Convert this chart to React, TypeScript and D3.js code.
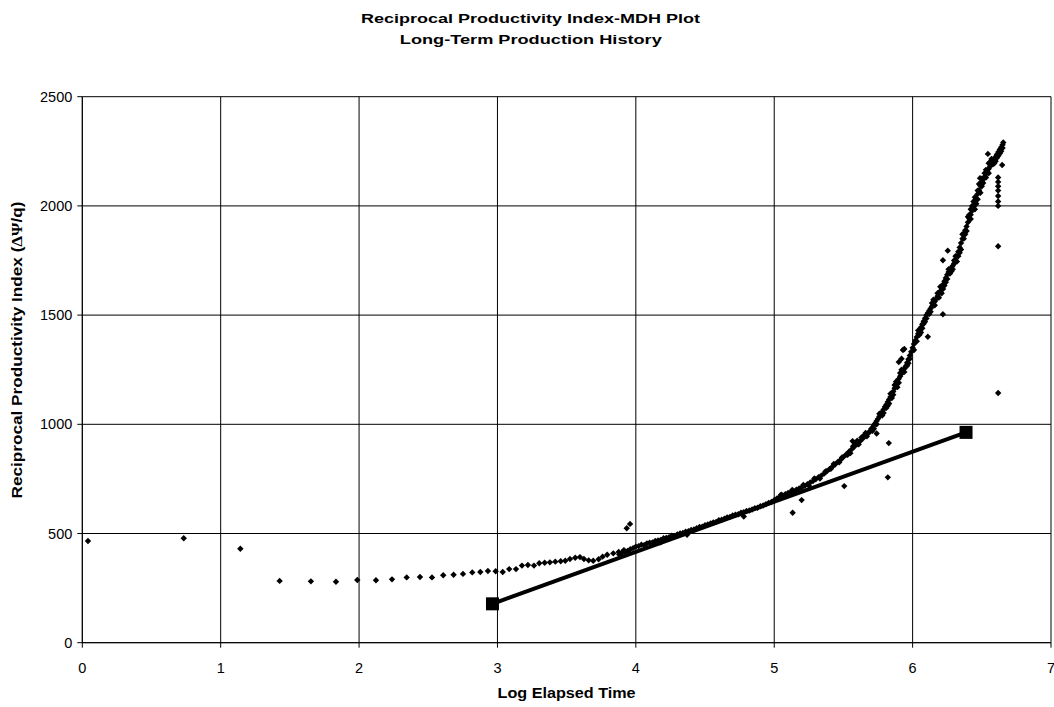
import React from "react";
import * as d3 from "d3";

const xTicks = [0, 1, 2, 3, 4, 5, 6, 7];
const yTicks = [0, 500, 1000, 1500, 2000, 2500];

// early-time points and the upper "knee" row
const earlyPoints: [number, number][] = [
  [0.041, 466], [0.733, 478], [1.142, 430], [1.426, 283], [1.652, 281], [1.833, 279],
  [1.987, 287], [2.122, 286], [2.238, 290], [2.344, 299], [2.44, 301], [2.527, 299],
  [2.608, 309], [2.683, 311], [2.751, 315], [2.818, 322], [2.876, 324], [2.931, 328],
  [2.987, 327], [3.038, 324], [3.085, 337], [3.134, 337], [3.177, 353], [3.22, 356],
  [3.264, 353], [3.302, 364], [3.341, 366], [3.379, 368], [3.418, 371], [3.457, 373],
  [3.49, 375], [3.524, 383], [3.562, 389], [3.596, 392], [3.625, 383], [3.659, 377],
  [3.692, 375], [3.731, 382], [3.76, 394], [3.793, 403], [3.837, 409], [3.876, 415],
  [3.914, 424],
];

// dense band of late-time points
const bandPoints: [number, number][] = [
  [3.88, 404], [3.9, 412], [3.92, 416], [3.94, 420], [3.96, 428], [3.98, 433], [4.0, 440],
  [4.02, 442], [4.04, 449], [4.06, 447], [4.08, 455], [4.1, 458], [4.12, 459], [4.14, 466],
  [4.16, 468], [4.18, 470], [4.18, 460], [4.2, 478], [4.22, 480], [4.24, 483], [4.26, 490],
  [4.28, 489], [4.3, 496], [4.32, 500], [4.34, 502], [4.36, 508], [4.37, 494], [4.38, 510],
  [4.4, 516], [4.42, 518], [4.44, 524], [4.46, 530], [4.48, 531], [4.5, 538], [4.52, 541],
  [4.54, 546], [4.56, 551], [4.58, 553], [4.6, 561], [4.62, 563], [4.64, 568], [4.66, 574],
  [4.68, 576], [4.7, 583], [4.72, 586], [4.74, 588], [4.76, 595], [4.78, 598], [4.78, 578],
  [4.8, 603], [4.82, 605], [4.84, 610], [4.86, 616], [4.88, 618], [4.9, 625], [4.92, 628],
  [4.94, 634], [4.96, 640], [4.98, 644], [5.0, 652],
  [5.02, 660], [5.04, 668], [5.05, 678], [5.06, 674], [5.08, 680], [5.09, 676], [5.1, 686],
  [5.12, 690], [5.13, 699], [5.14, 695], [5.16, 700], [5.17, 694], [5.18, 706], [5.2, 712],
  [5.21, 722], [5.22, 718], [5.24, 726], [5.25, 720], [5.26, 734], [5.28, 740], [5.29, 752],
  [5.3, 748], [5.32, 758], [5.33, 752], [5.34, 765], [5.36, 774], [5.37, 784], [5.38, 785],
  [5.4, 795], [5.41, 796], [5.42, 806], [5.43, 818], [5.44, 816], [5.46, 828], [5.47, 826],
  [5.48, 838], [5.49, 848], [5.5, 850],
  [5.52, 862], [5.53, 860], [5.54, 874], [5.56, 886], [5.57, 900], [5.58, 898], [5.6, 910],
  [5.61, 908], [5.62, 922], [5.64, 935], [5.65, 950], [5.66, 948], [5.68, 962], [5.69, 965],
  [5.7, 978], [5.71, 985], [5.72, 996], [5.72, 980], [5.73, 1005], [5.74, 1015], [5.75, 1025],
  [5.76, 1036], [5.76, 1048], [5.77, 1046], [5.78, 1057], [5.79, 1068], [5.79, 1052],
  [5.8, 1080], [5.81, 1090], [5.82, 1102], [5.82, 1085], [5.83, 1114], [5.84, 1125],
  [5.84, 1140], [5.85, 1138], [5.86, 1150], [5.86, 1135], [5.87, 1165], [5.88, 1178],
  [5.88, 1195], [5.89, 1192], [5.9, 1208], [5.9, 1190], [5.9, 1285], [5.91, 1220],
  [5.92, 1232], [5.92, 1250], [5.92, 1300], [5.93, 1243], [5.93, 1340], [5.94, 1254],
  [5.94, 1240], [5.94, 1345], [5.95, 1266], [5.96, 1282], [5.96, 1268], [5.97, 1298],
  [5.98, 1315], [5.98, 1300], [5.99, 1332], [6.0, 1350],
  [6.01, 1368], [6.02, 1384], [6.03, 1400], [6.04, 1415], [6.04, 1430], [6.05, 1430],
  [6.06, 1444], [6.06, 1420], [6.07, 1458], [6.08, 1472], [6.08, 1460], [6.09, 1486],
  [6.1, 1500], [6.11, 1510], [6.12, 1520], [6.12, 1505], [6.13, 1530], [6.14, 1540],
  [6.14, 1555], [6.15, 1550], [6.16, 1562], [6.17, 1574], [6.18, 1586], [6.18, 1600],
  [6.19, 1598], [6.2, 1610], [6.2, 1630], [6.21, 1625], [6.22, 1640], [6.22, 1620],
  [6.23, 1655], [6.24, 1670], [6.24, 1650], [6.25, 1685], [6.26, 1697], [6.26, 1710],
  [6.27, 1708], [6.28, 1717], [6.28, 1700], [6.29, 1726], [6.3, 1736], [6.3, 1750],
  [6.31, 1752], [6.32, 1770], [6.33, 1790], [6.33, 1770], [6.34, 1810], [6.35, 1830],
  [6.36, 1850], [6.36, 1870], [6.37, 1870], [6.38, 1888], [6.38, 1870], [6.39, 1906],
  [6.4, 1925], [6.4, 1950], [6.41, 1942], [6.42, 1960], [6.42, 1940], [6.43, 1978],
  [6.44, 1996], [6.44, 2020], [6.45, 2015], [6.46, 2034], [6.46, 2010], [6.47, 2054],
  [6.48, 2072], [6.48, 2100], [6.49, 2092], [6.5, 2110], [6.5, 2090], [6.51, 2122],
  [6.52, 2134], [6.52, 2150], [6.53, 2146], [6.54, 2158], [6.55, 2170], [6.56, 2181],
  [6.56, 2200], [6.57, 2192], [6.58, 2203], [6.58, 2190], [6.59, 2214], [6.6, 2225],
  [6.61, 2236], [6.62, 2247], [6.62, 2230], [6.63, 2258], [6.64, 2269], [6.64, 2250],
  [6.65, 2280], [6.655, 2290],
  [5.58, 915], [5.63, 940], [5.67, 945], [5.74, 1000], [5.83, 1095], [5.87, 1180],
  [6.03, 1380], [6.09, 1470], [6.16, 1545], [6.21, 1600], [6.27, 1690], [6.32, 1745],
  [6.35, 1800], [6.43, 2000], [6.45, 1985], [6.47, 2070], [6.49, 2060], [6.51, 2105],
  [6.53, 2130], [6.57, 2215], [6.6, 2205], [6.63, 2240],
  [5.55, 868], [5.6, 925], [5.66, 960], [5.71, 970], [5.78, 1040], [5.81, 1075],
  [5.85, 1120], [5.89, 1170], [5.91, 1235], [5.97, 1280], [6.01, 1340], [6.05, 1410],
  [6.07, 1440], [6.1, 1485], [6.13, 1515], [6.15, 1570], [6.19, 1580], [6.23, 1635],
  [6.25, 1665], [6.29, 1710], [6.31, 1770], [6.34, 1785], [6.37, 1850], [6.39, 1885],
  [6.41, 1960], [6.42, 1985], [6.45, 2040], [6.47, 2030], [6.5, 2125], [6.53, 2165],
  [6.55, 2150], [6.59, 2195], [6.61, 2220], [6.65, 2265],
];

// scattered outliers
const outlierPoints: [number, number][] = [
  [3.934, 524], [3.958, 544], [5.133, 595], [5.198, 653], [5.506, 717], [5.566, 923],
  [5.74, 958], [5.821, 757], [5.828, 914], [6.11, 1401], [6.219, 1504], [6.219, 1751],
  [6.254, 1795], [6.487, 2127], [6.544, 2238], [6.55, 2195], [6.618, 1815], [6.618, 1143],
  [6.618, 2000], [6.618, 2020], [6.618, 2045], [6.618, 2070], [6.618, 2090], [6.618, 2110],
  [6.618, 2130], [6.647, 2187],
];

// straight-line fit (semilog straight line)
const fitLine: [number, number][] = [
  [2.964, 178],
  [6.386, 963],
];

const W = 1054;
const H = 707;
const left = 82.3;
const right = 1051;
const top = 96.7;
const bottom = 642.7;

export default function App() {
  const x = d3.scaleLinear().domain([0, 7]).range([left, right]);
  const y = d3.scaleLinear().domain([0, 2500]).range([bottom, top]);
  const diamond = (p: [number, number], i: number, k: string) => {
    const cx = x(p[0]);
    const cy = y(p[1]);
    const r = 3.2;
    return (
      <path
        key={k + i}
        d={`M${cx},${cy - r}L${cx + r},${cy}L${cx},${cy + r}L${cx - r},${cy}Z`}
        fill="#000"
      />
    );
  };
  const line = d3
    .line<[number, number]>()
    .x((d) => x(d[0]))
    .y((d) => y(d[1]));
  const font = "'Liberation Sans', Arial, sans-serif";
  return (
    <svg
      width={W}
      height={H}
      style={{ position: "absolute", left: 0, top: 0, background: "#fff" }}
      fontFamily={font}
    >
      <rect x={0} y={0} width={W} height={H} fill="#fff" />
      {/* gridlines */}
      {yTicks.map((t) => (
        <line key={"gy" + t} x1={left} x2={right} y1={y(t)} y2={y(t)} stroke="#000" strokeWidth={1} />
      ))}
      {xTicks.map((t) => (
        <line key={"gx" + t} x1={x(t)} x2={x(t)} y1={top} y2={bottom} stroke="#000" strokeWidth={1} />
      ))}
      {/* axes */}
      <line x1={left} x2={left} y1={top} y2={bottom + 0.5} stroke="#000" />
      <line x1={left} x2={right} y1={bottom} y2={bottom} stroke="#000" />
      {yTicks.map((t) => (
        <g key={"ty" + t}>
          <line x1={left - 5} x2={left} y1={y(t)} y2={y(t)} stroke="#000" />
          <text x={left - 10} y={y(t) + 5} fontSize={14.5} textAnchor="end" fill="#000">
            {t}
          </text>
        </g>
      ))}
      {xTicks.map((t) => (
        <g key={"tx" + t}>
          <line x1={x(t)} x2={x(t)} y1={bottom} y2={bottom + 5} stroke="#000" />
          <text x={x(t)} y={672.5} fontSize={14.5} textAnchor="middle" fill="#000">
            {t}
          </text>
        </g>
      ))}
      {/* data */}
      {earlyPoints.map((p, i) => diamond(p, i, "e"))}
      {bandPoints.map((p, i) => diamond(p, i, "b"))}
      {outlierPoints.map((p, i) => diamond(p, i, "o"))}
      <path d={line(fitLine) || ""} stroke="#000" strokeWidth={4} fill="none" />
      {fitLine.map((p, i) => (
        <rect key={"s" + i} x={x(p[0]) - 6.5} y={y(p[1]) - 6.5} width={13} height={13} fill="#000" />
      ))}
      {/* titles */}
      <text
        x={530.5}
        y={23}
        fontSize={13.5}
        fontWeight="bold"
        textAnchor="middle"
        fill="#000"
        textLength={339}
        lengthAdjust="spacingAndGlyphs"
      >
        Reciprocal Productivity Index-MDH Plot
      </text>
      <text
        x={530.8}
        y={43.5}
        fontSize={13.5}
        fontWeight="bold"
        textAnchor="middle"
        fill="#000"
        textLength={262}
        lengthAdjust="spacingAndGlyphs"
      >
        Long-Term Production History
      </text>
      <text
        x={566.6}
        y={698}
        fontSize={14}
        fontWeight="bold"
        textAnchor="middle"
        fill="#000"
        textLength={138}
        lengthAdjust="spacingAndGlyphs"
      >
        Log Elapsed Time
      </text>
      <text
        transform={`translate(22,350) rotate(-90)`}
        fontSize={14}
        fontWeight="bold"
        textAnchor="middle"
        fill="#000"
        textLength={297}
        lengthAdjust="spacingAndGlyphs"
      >
        Reciprocal Productivity Index (
        <tspan fontFamily="'Liberation Serif', 'Times New Roman', serif">ΔΨ</tspan>/q)
      </text>
    </svg>
  );
}
